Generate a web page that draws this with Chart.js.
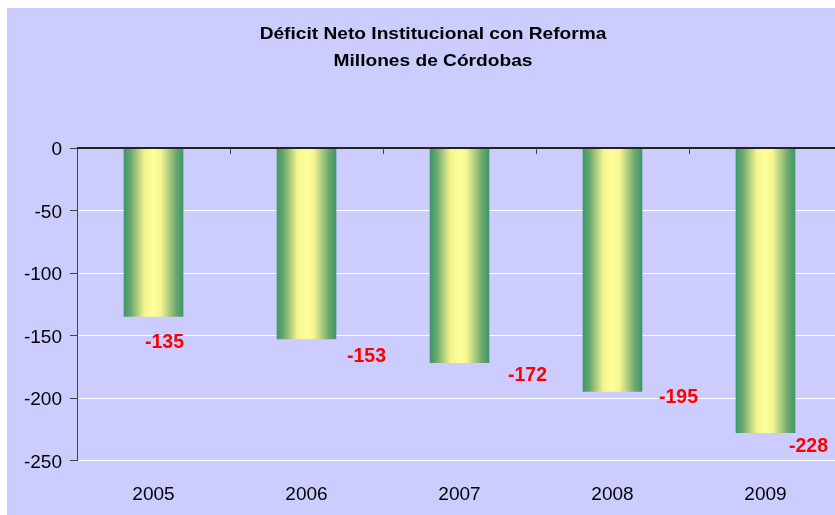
<!DOCTYPE html>
<html>
<head>
<meta charset="utf-8">
<script src="https://cdn.jsdelivr.net/npm/chart.js@4.4.1/dist/chart.umd.min.js"></script>
<style>
  html, body { margin: 0; padding: 0; background: #fff; overflow: hidden; width: 835px; height: 515px; }
  #wrap { position: absolute; left: 7px; top: 8px; width: 835px; height: 507px; background: #ccccff; }
</style>
</head>
<body>
<div id="wrap"><canvas id="chart" width="835" height="507"></canvas></div>
<script>
const titleLines = ['Déficit Neto Institucional con Reforma', 'Millones de Córdobas'];
const years = ['2005', '2006', '2007', '2008', '2009'];
const deficit = [-135, -153, -172, -195, -228];
const yMin = -250;
const yMax = 0;
const yStep = 50;

const FONT = "'Liberation Sans', Arial, sans-serif";
const BAR_PCT = 0.39;

// hand-placed data labels in the original, offsets from bar end (px)
const labelDx = [11, 60, 68, 66, 43];
const labelDy = [26, 17, 13, 6, 14];

const barFill = (ctx) => {
  const chart = ctx.chart;
  const xs = chart.scales.x;
  if (!xs || !chart.chartArea) return '#3e9a68';
  const c = xs.getPixelForValue(ctx.dataIndex);
  const half = (xs.width / years.length) * BAR_PCT / 2;
  const g = chart.ctx.createLinearGradient(c - half, 0, c + half, 0);
  g.addColorStop(0, '#3c9768');
  g.addColorStop(0.12, '#6aa86e');
  g.addColorStop(0.35, '#f4f590');
  g.addColorStop(0.5, '#ffff99');
  g.addColorStop(0.62, '#f6f692');
  g.addColorStop(0.88, '#6aa86e');
  g.addColorStop(1, '#3c9768');
  return g;
};

const decorPlugin = {
  id: 'decor',
  afterDatasetsDraw(chart) {
    const { ctx, chartArea, scales } = chart;
    const xs = scales.x;
    const ys = scales.y;
    const y0 = ys.getPixelForValue(0);

    ctx.save();
    // zero line
    ctx.strokeStyle = '#222';
    ctx.lineWidth = 2;
    ctx.beginPath();
    ctx.moveTo(chartArea.left, y0);
    ctx.lineTo(chartArea.right, y0);
    ctx.stroke();

    // category ticks hanging from the zero line
    ctx.lineWidth = 1;
    ctx.strokeStyle = '#444';
    for (let i = 1; i < years.length; i++) {
      const x = Math.round((xs.getPixelForValue(i - 1) + xs.getPixelForValue(i)) / 2) + 0.5;
      ctx.beginPath();
      ctx.moveTo(x, y0);
      ctx.lineTo(x, y0 + 6);
      ctx.stroke();
    }

    // data labels
    ctx.fillStyle = '#ff0000';
    ctx.font = `bold 19.5px ${FONT}`;
    ctx.textAlign = 'center';
    ctx.textBaseline = 'middle';
    chart.getDatasetMeta(0).data.forEach((bar, i) => {
      ctx.fillText(String(deficit[i]), bar.x + labelDx[i], bar.y + labelDy[i]);
    });
    ctx.restore();
  },
  afterDraw(chart) {
    const { ctx } = chart;
    ctx.save();
    ctx.fillStyle = '#000';
    ctx.font = `bold 16.5px ${FONT}`;
    ctx.textAlign = 'center';
    ctx.textBaseline = 'middle';
    // the original title is rendered a bit wide
    ctx.translate(426, 0);
    ctx.scale(1.16, 1);
    ctx.fillText(titleLines[0], 0, 26);
    ctx.fillText(titleLines[1], 0, 53);
    ctx.restore();
  },
};

new Chart(document.getElementById('chart'), {
  type: 'bar',
  data: {
    labels: years,
    datasets: [
      {
        data: deficit,
        backgroundColor: barFill,
        borderWidth: 0,
        barPercentage: BAR_PCT,
        categoryPercentage: 1,
      },
    ],
  },
  options: {
    responsive: false,
    animation: false,
    devicePixelRatio: 1,
    layout: { padding: { top: 140, left: 0, right: 0, bottom: 0 } },
    plugins: {
      legend: { display: false },
      tooltip: { enabled: false },
      title: { display: false },
    },
    scales: {
      x: {
        position: 'bottom',
        grid: { display: false, drawTicks: false },
        border: { display: false },
        ticks: { color: '#000', font: { family: FONT, size: 19 }, padding: 23, maxRotation: 0 },
        afterFit: (s) => { s.height = 54.5; },
      },
      y: {
        min: yMin,
        max: yMax,
        grid: {
          color: (c) => (c.tick && c.tick.value === 0 ? '#222' : '#ffffff'),
          lineWidth: 1,
          drawTicks: true,
          tickLength: 7,
          tickColor: '#444',
        },
        border: { display: true, color: '#444', width: 1 },
        ticks: { stepSize: yStep, color: '#000', font: { family: FONT, size: 19 }, padding: 8, labelOffset: 2 },
        afterFit: (s) => { s.width = 70; },
      },
    },
  },
  plugins: [decorPlugin],
});
</script>
</body>
</html>
